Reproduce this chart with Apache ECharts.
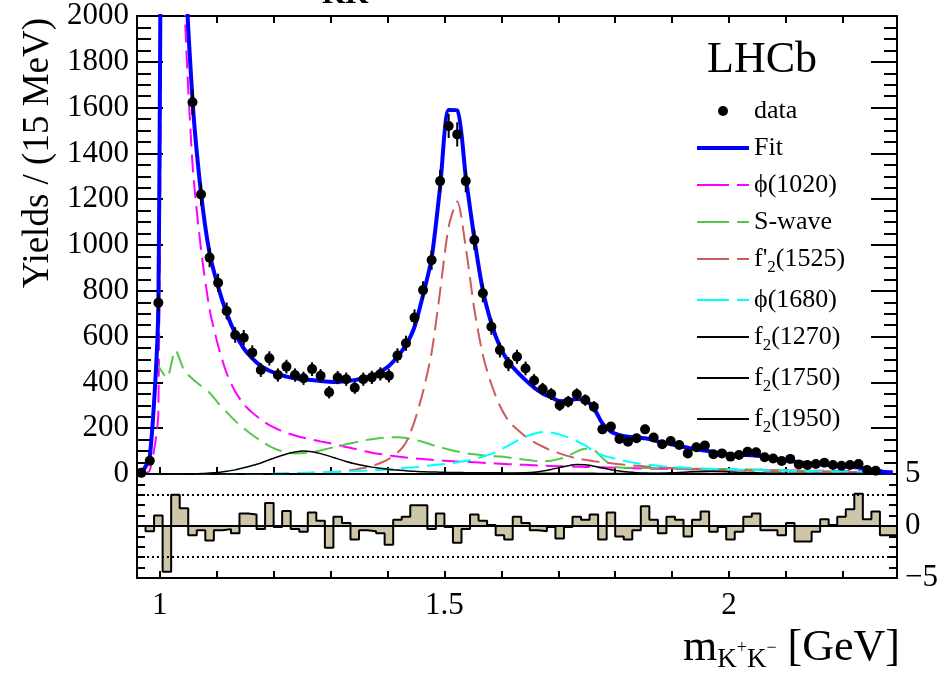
<!DOCTYPE html>
<html>
<head>
<meta charset="utf-8">
<script src="https://cdn.jsdelivr.net/npm/echarts@6/dist/echarts.min.js"></script>
<style>
  html, body { margin: 0; padding: 0; background: #fff; }
  #chart { width: 944px; height: 675px; }
</style>
</head>
<body>
<div id="chart"></div>
<script>
// K+K- mass binning, GeV (15 MeV bins)
const massMin = 0.96
const massMax = 2.295
const binWidth = 0.015
const nBins = 89

const massTicks = [1.0, 1.1, 1.2, 1.3, 1.4, 1.5, 1.6, 1.7, 1.8, 1.9, 2.0, 2.1, 2.2]
const massLabels = [1, 1.5, 2]

// yields per bin (null = off scale or empty)
const yields = [
  5, 58, 748, null, null, null, 1623, 1221, 945, 835,
  712, 607, 595, 530, 454, 505, 432, 469, 432, 418,
  458, 429, 357, 421, 414, 377, 414, 422, 437, 429,
  517, 571, 683, 803, 934, 1279, 1520, 1483, 1279, 1022,
  789, 643, 541, 480, 512, 461, 408, 371, 349, 300,
  316, 348, 323, 294, 195, 207, 153, 141, 156, 195,
  159, 130, 144, 127, 90, 117, 124, 86, 90, 76,
  83, 97, 95, 73, 68, 57, 66, 42, 39, 44,
  49, 39, 36, 39, 44, 17, 14, null, null
]
const yieldErrors = [
  4, 12, 40, 0, 0, 0, 55, 48, 42, 40,
  37, 34, 34, 32, 30, 31, 29, 30, 29, 29,
  30, 29, 27, 29, 29, 27, 29, 29, 29, 29,
  32, 33, 36, 39, 42, 49, 53, 53, 49, 44,
  39, 35, 32, 31, 31, 30, 28, 27, 26, 25,
  25, 26, 25, 24, 20, 20, 18, 17, 18, 20,
  18, 16, 17, 16, 14, 15, 16, 13, 14, 13,
  13, 14, 14, 12, 12, 11, 12, 10, 9, 10,
  10, 9, 9, 9, 10, 6, 6, 0, 0
]

// fit and its components, evaluated at the bin centres
const fitTotal = [
  3, 75, 740, 7000, 6000, 2400, 1635, 1226, 964, 818,
  702, 614, 549, 505, 472, 451, 437, 425, 418, 413,
  410, 406, 403, 402, 406, 410, 418, 429, 447, 472,
  512, 563, 643, 782, 942, 1255, 1590, 1588, 1298, 1029,
  803, 658, 556, 490, 447, 410, 377, 352, 335, 318,
  320, 328, 322, 287, 221, 185, 170, 163, 160, 156,
  148, 137, 130, 122, 115, 108, 102, 96, 90, 86,
  83, 83, 80, 76, 68, 61, 57, 51, 47, 44,
  41, 37, 34, 31, 28, 22, 15, 9, 5
]
const phi1020 = [
  0, 15, 270, 6000, 6000, 2150, 1354, 980, 720, 560,
  440, 360, 305, 268, 238, 213, 195, 180, 168, 158,
  150, 142, 135, 127, 118, 110, 100, 93, 87, 81,
  76, 72, 68, 65, 62, 59, 57, 55, 53, 51,
  49, 47, 45, 43, 41, 40, 38, 37, 35, 34,
  33, 32, 31, 30, 29, 28, 27, 26, 25, 24,
  23, 23, 22, 22, 21, 21, 20, 20, 19, 19,
  18, 18, 17, 17, 16, 16, 15, 15, 15, 14,
  14, 14, 13, 13, 13, 12, 12, 12, 12
]
const sWave = [
  0, 60, 470, 420, 540, 455, 415, 385, 355, 310,
  270, 232, 200, 170, 145, 122, 105, 95, 90, 92,
  96, 103, 112, 120, 130, 138, 146, 152, 157, 160,
  160, 157, 150, 140, 128, 117, 107, 98, 91, 86,
  82, 78, 76, 72, 67, 62, 58, 56, 58, 66,
  80, 98, 110, 105, 70, 40, 28, 27, 27, 26,
  26, 25, 25, 24, 24, 23, 23, 22, 22, 21,
  21, 20, 20, 19, 18, 17, 16, 15, 14, 13,
  12, 11, 10, 9, 7, 5, 3, 2, 1
]
const f2p1525 = [
  0, 0, 0, 0, 0, 0, 0, 0, 0, 0,
  0, 0, 0, 0, 0, 0, 1, 2, 3, 4,
  5, 6, 8, 10, 14, 19, 26, 35, 48, 66,
  93, 138, 230, 360, 530, 800, 1080, 1190, 990, 720,
  520, 392, 298, 232, 195, 164, 139, 120, 103, 90,
  78, 68, 62, 56, 51, 47, 43, 39, 36, 33,
  30, 28, 26, 24, 22, 21, 20, 19, 18, 17,
  16, 15, 14, 14, 13, 12, 12, 11, 11, 10,
  10, 9, 9, 8, 8, 7, 7, 6, 6
]
const phi1680 = [
  0, 0, 0, 0, 0, 0, 0, 0, 0, 0,
  0, 0, 0, 0, 0, 1, 2, 3, 4, 5,
  6, 7, 8, 9, 11, 12, 14, 16, 18, 21,
  24, 27, 30, 34, 38, 42, 46, 51, 57, 65,
  75, 88, 104, 124, 145, 163, 176, 183, 181, 172,
  160, 143, 125, 98, 82, 72, 62, 54, 47, 42,
  38, 34, 31, 29, 27, 25, 23, 22, 21, 20,
  19, 18, 17, 16, 15, 15, 14, 13, 13, 12,
  12, 11, 11, 10, 10, 9, 9, 9, 8
]
const f21270 = [
  0, 0, 0, 0, 0, 0, 0, 2, 4, 7,
  12, 18, 27, 37, 48, 62, 75, 87, 96, 100,
  97, 89, 78, 66, 55, 45, 37, 30, 25, 20,
  17, 14, 12, 10, 9, 8, 7, 7, 6, 6,
  5, 5, 5, 4, 4, 4, 4, 3, 3, 3,
  3, 3, 3, 3, 2, 2, 2, 2, 2, 2,
  2, 2, 2, 2, 2, 2, 2, 1, 1, 1,
  1, 1, 1, 1, 1, 1, 1, 1, 1, 1,
  1, 1, 1, 1, 1, 1, 1, 1, 1
]
const f21750 = [
  0, 0, 0, 0, 0, 0, 0, 0, 0, 0,
  0, 0, 0, 0, 0, 0, 0, 0, 0, 0,
  0, 0, 0, 0, 0, 0, 0, 0, 0, 0,
  0, 0, 0, 0, 0, 0, 0, 0, 0, 0,
  1, 1, 1, 2, 3, 5, 8, 13, 20, 28,
  36, 41, 40, 34, 26, 19, 13, 9, 6, 4,
  3, 2, 2, 2, 2, 2, 2, 2, 2, 2,
  2, 2, 2, 2, 2, 2, 2, 2, 2, 2,
  2, 2, 2, 2, 2, 2, 2, 2, 2
]
const f21950 = [
  0, 0, 0, 0, 0, 0, 0, 0, 0, 0,
  0, 0, 0, 0, 0, 0, 0, 0, 0, 0,
  0, 0, 0, 0, 0, 0, 0, 0, 0, 0,
  0, 0, 0, 0, 0, 0, 0, 0, 0, 0,
  0, 0, 0, 0, 0, 0, 0, 0, 0, 0,
  0, 0, 0, 0, 0, 0, 0, 0, 0, 1,
  2, 3, 5, 7, 9, 11, 12, 12, 11, 9,
  7, 6, 5, 4, 3, 3, 2, 2, 2, 2,
  1, 1, 1, 1, 1, 1, 1, 1, 1
]

// normalised residuals per bin
const pulls = [
  0, -0.5, 1.0, -4.4, 3.0, 1.7, -0.9, -0.4, -1.4, -0.4,
  -0.3, -0.7, 1.2, 1.1, -0.3, 2.2, -0.1, 1.45, -0.3, -0.55,
  1.3, 0.5, -2.1, 0.9, 0.3, -1.3, -0.4, -0.5, -0.7, -1.8,
  0.6, 0.9, 2.0, 2.0, -0.3, 1.2, -0.1, -1.6, -0.3, 1.1,
  0.5, 0.1, -0.9, -1.3, 0.9, 0.3, -0.4, -0.5, -0.1, -1.2,
  -0.1, 0.9, 0.6, 1.1, -1.3, 1.3, -1.0, -1.3, -0.4, 1.9,
  0.6, -0.7, 0.9, 0.6, -1.0, 0.6, 1.4, -0.55, -0.1, -1.3,
  -0.55, 0.9, 1.2, -0.4, -0.4, -0.9, 0.3, -1.5, -1.5, -0.55,
  0.65, 0.1, 0.9, 1.6, 3.1, 0.65, 1.4, -0.9, -0.9
]

const serif = 'Liberation Serif'
const black = '#000'

const binCenters = []
for (let k = 0; k < nBins; k++) {
  binCenters.push(massMin + binWidth * (k + 0.5))
}

function curve (values) {
  return values.map((v, k) => [binCenters[k], v])
}

const dataPoints = []
yields.forEach((v, k) => {
  if (v !== null) dataPoints.push([binCenters[k], v, yieldErrors[k]])
})

// step outline of the residual histogram
const pullOutline = [[massMin, 0]]
pulls.forEach((p, k) => {
  pullOutline.push([massMin + binWidth * k, p], [massMin + binWidth * (k + 1), p])
})
pullOutline.push([massMax, 0])

function massAxis (gridIndex, position, withLabels) {
  return {
    type: 'value',
    gridIndex,
    position,
    min: massMin,
    max: massMax,
    axisLine: { onZero: false, lineStyle: { color: black, width: 2 } },
    axisTick: { inside: true, length: 7, customValues: massTicks, lineStyle: { color: black, width: 2 } },
    axisLabel: withLabels
      ? { customValues: massLabels, fontSize: 31, fontFamily: serif, color: black, margin: 12 }
      : { show: false },
    splitLine: { show: false }
  }
}

function valueAxis (gridIndex, position, opts) {
  return {
    type: 'value',
    gridIndex,
    position,
    min: opts.min,
    max: opts.max,
    interval: opts.interval,
    axisLine: { show: true, onZero: false, lineStyle: { color: black, width: 2 } },
    axisTick: { inside: true, length: opts.tick, lineStyle: { color: black, width: 2 } },
    minorTick: { show: true, splitNumber: opts.minor, length: opts.minorTick, lineStyle: { color: black, width: 2 } },
    axisLabel: opts.labels
      ? { fontSize: 31, fontFamily: serif, color: black, margin: 8, formatter: v => (v < 0 ? '\u2212' + Math.abs(v) : String(v)) }
      : { show: false },
    splitLine: { show: false }
  }
}

function component (name, values, color, dashed) {
  return {
    name,
    type: 'line',
    xAxisIndex: 0,
    yAxisIndex: 0,
    data: curve(values),
    symbol: 'none',
    smooth: 0.25,
    color,
    lineStyle: { color, width: dashed ? 2 : 1.5, type: dashed ? [18, 8] : 'solid' },
    z: 2
  }
}

const legendNames = ['data', 'Fit', '\u03d5(1020)', 'S-wave', "f'2(1525)", '\u03d5(1680)', 'f2(1270)', 'f2(1750)', 'f2(1950)']

function legendItem (name) {
  if (name === 'data') return { name, icon: 'circle', itemStyle: { opacity: 1, color: black } }
  if (name === 'Fit') return { name, lineStyle: { width: 4 } }
  if (name.startsWith('f2')) return { name, lineStyle: { width: 2 } }
  return { name, lineStyle: { width: 2, type: [32, 8] } }
}

const chart = echarts.init(document.getElementById('chart'))

const option = {
  animation: false,
  backgroundColor: '#fff',
  textStyle: { fontFamily: serif },
  grid: [
    { left: 137, right: 47, top: 16, height: 458 },
    { left: 137, right: 47, top: 474, height: 104 }
  ],
  xAxis: [
    massAxis(0, 'bottom', false),
    massAxis(0, 'top', false),
    massAxis(1, 'bottom', true)
  ],
  yAxis: [
    valueAxis(0, 'left', { min: 0, max: 2000, interval: 200, tick: 26, minor: 4, minorTick: 14, labels: true }),
    valueAxis(0, 'right', { min: 0, max: 2000, interval: 200, tick: 26, minor: 4, minorTick: 13, labels: false }),
    valueAxis(1, 'left', { min: -5, max: 5, interval: 5, tick: 16, minor: 5, minorTick: 8, labels: false }),
    valueAxis(1, 'right', { min: -5, max: 5, interval: 5, tick: 16, minor: 5, minorTick: 8, labels: true })
  ],
  legend: {
    left: 690,
    top: 93,
    orient: 'vertical',
    itemWidth: 52,
    itemHeight: 10,
    itemGap: 11,
    selectedMode: false,
    itemStyle: { opacity: 0 },
    data: legendNames.map(legendItem),
    formatter: name => {
      const m = name.match(/^(f'?)2(\(\d+\))$/)
      if (m) return '{n|' + m[1] + '}{s|2}{n|' + m[2] + '}'
      return '{n|' + name + '}'
    },
    textStyle: {
      color: black,
      fontFamily: serif,
      fontSize: 26,
      rich: {
        n: { fontFamily: serif, fontSize: 26, lineHeight: 34, color: black },
        s: { fontFamily: serif, fontSize: 17, lineHeight: 34, verticalAlign: 'bottom', color: black }
      }
    }
  },
  series: [
    component('\u03d5(1020)', phi1020, '#ff00ff', true),
    component('S-wave', sWave, '#55c84a', true),
    component("f'2(1525)", f2p1525, '#cd5c5c', true),
    component('\u03d5(1680)', phi1680, '#00ffff', true),
    component('f2(1270)', f21270, black, false),
    component('f2(1750)', f21750, black, false),
    component('f2(1950)', f21950, black, false),
    {
      name: 'Fit',
      type: 'line',
      xAxisIndex: 0,
      yAxisIndex: 0,
      data: curve(fitTotal),
      symbol: 'none',
      smooth: 0.25,
      color: '#0000ff',
      lineStyle: { color: '#0000ff', width: 4 },
      z: 3
    },
    {
      type: 'custom',
      xAxisIndex: 0,
      yAxisIndex: 0,
      data: dataPoints,
      z: 4,
      renderItem (params, api) {
        const x = api.value(0)
        const y = api.value(1)
        const e = api.value(2)
        const lo = api.coord([x, y - e])
        const hi = api.coord([x, y + e])
        return {
          type: 'line',
          shape: { x1: lo[0], y1: lo[1], x2: hi[0], y2: hi[1] },
          style: { stroke: black, lineWidth: 2 }
        }
      }
    },
    {
      name: 'data',
      type: 'scatter',
      xAxisIndex: 0,
      yAxisIndex: 0,
      data: dataPoints.map(p => [p[0], p[1]]),
      symbol: 'circle',
      symbolSize: 10,
      color: black,
      itemStyle: { color: black, opacity: 1 },
      z: 5
    },
    {
      type: 'line',
      xAxisIndex: 2,
      yAxisIndex: 2,
      data: pullOutline,
      symbol: 'none',
      lineStyle: { color: black, width: 2 },
      areaStyle: { color: '#cdc6a9', opacity: 1 },
      markLine: {
        silent: true,
        symbol: 'none',
        label: { show: false },
        data: [
          { yAxis: 3, lineStyle: { color: black, width: 2, type: [2, 3] } },
          { yAxis: -3, lineStyle: { color: black, width: 2, type: [2, 3] } },
          { yAxis: 0, lineStyle: { color: black, width: 2, type: 'solid' } }
        ]
      }
    }
  ],
  graphic: [
    {
      type: 'text',
      left: 707,
      top: 38,
      style: { text: 'LHCb', fontFamily: serif, fontSize: 44, fill: black }
    },
    {
      type: 'text',
      x: 38,
      y: 18,
      rotation: Math.PI / 2,
      style: {
        text: 'Yields / (15 MeV)',
        fontFamily: serif,
        fontSize: 37,
        fill: black,
        align: 'right',
        verticalAlign: 'middle'
      }
    },
    {
      type: 'text',
      right: 44,
      top: 626,
      style: {
        text: '{m|m}{s|K}{p|+}{s|K}{p|\u2212}{m| [GeV]}',
        fill: black,
        rich: {
          m: { fontFamily: serif, fontSize: 44, lineHeight: 50, fill: black },
          s: { fontFamily: serif, fontSize: 27, lineHeight: 50, verticalAlign: 'bottom', fill: black },
          p: { fontFamily: serif, fontSize: 18, lineHeight: 50, verticalAlign: 'middle', fill: black }
        }
      }
    },
    {
      type: 'text',
      left: 322,
      top: -20,
      style: { text: 'KK', fontFamily: serif, fontSize: 30, fontWeight: 'bold', fill: black }
    }
  ]
}

chart.setOption(option)
</script>
</body>
</html>
